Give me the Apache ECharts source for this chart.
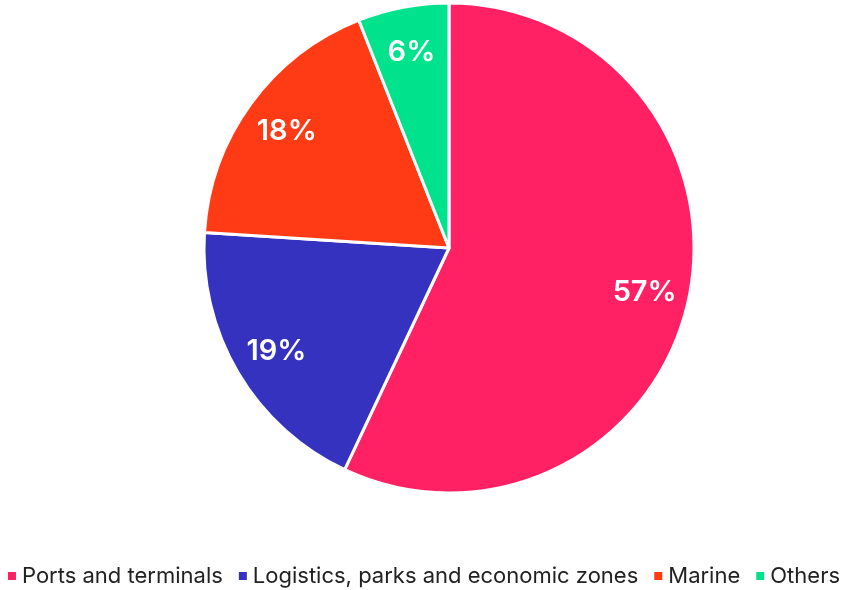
<!DOCTYPE html>
<html>
<head>
<meta charset="UTF-8">
<title>Pie</title>
<style>
  html, body { margin: 0; padding: 0; background: #fff; }
  .box { width: 846px; height: 590px; }
</style>
</head>
<body>
<div class="box" id="main"></div>
<script src="https://cdn.jsdelivr.net/npm/echarts@6/dist/echarts.min.js"></script>
<script>
var categories = ['Ports and terminals', 'Logistics, parks and economic zones', 'Marine', 'Others'];
var shares = [57, 19, 18, 6];
var colors = ['#FF2164', '#3432BE', '#FF3B16', '#00E38C'];

var pieData = categories.map(function (name, i) {
    return { name: name, value: shares[i], itemStyle: { color: colors[i] } };
});

var myChart = echarts.init(document.getElementById('main'));
var option = {
    animation: false,
    legend: {
        bottom: -2,
        left: 'center',
        icon: 'rect',
        itemWidth: 10,
        itemHeight: 10,
        itemGap: 14,
        textStyle: { fontFamily: 'Inter', fontSize: 22, color: '#222' },
        data: categories
    },
    series: [
        {
            type: 'pie',
            center: [449, 248],
            radius: 245,
            startAngle: 90,
            clockwise: true,
            label: { show: false },
            labelLine: { show: false },
            itemStyle: { borderColor: '#fff', borderWidth: 3 },
            emphasis: { disabled: true },
            data: pieData
        },
        {
            // transparent ring only used to place labels further out
            type: 'pie',
            center: [449, 249],
            radius: [150, 245],
            startAngle: 90,
            clockwise: true,
            silent: true,
            itemStyle: { color: 'transparent', borderWidth: 0 },
            label: {
                show: true,
                position: 'inside',
                formatter: '{c}%',
                color: '#fff',
                fontFamily: 'Inter',
                fontSize: 29,
                fontWeight: 600
            },
            labelLine: { show: false },
            data: categories.map(function (name, i) { return { name: name, value: shares[i] }; })
        }
    ]
};
myChart.setOption(option);
</script>
</body>
</html>
